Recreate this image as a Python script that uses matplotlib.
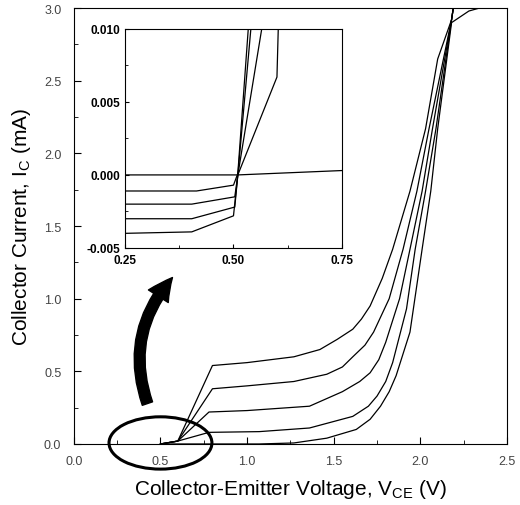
import matplotlib.pyplot as plt
from matplotlib.patches import Ellipse, FancyArrowPatch
from matplotlib.ticker import MultipleLocator

plt.rcParams['font.family'] = ['Liberation Sans', 'DejaVu Sans']

# main I-V curves (V_CE in V, I_C in mA), highest base current first
v1 = [0.50, 0.60, 0.80, 1.00, 1.27, 1.42, 1.52, 1.61, 1.66, 1.71, 1.78, 1.84, 1.94, 2.03, 2.10, 2.18, 2.19, 2.50]
i1 = [0.00, 0.02, 0.54, 0.56, 0.60, 0.65, 0.72, 0.79, 0.86, 0.95, 1.14, 1.34, 1.74, 2.17, 2.65, 2.92, 3.00, 3.00]
v2 = [0.50, 0.60, 0.80, 1.00, 1.27, 1.46, 1.55, 1.61, 1.68, 1.73, 1.82, 1.90, 1.98, 2.05, 2.18, 2.19, 2.50]
i2 = [0.00, 0.02, 0.38, 0.40, 0.43, 0.48, 0.53, 0.60, 0.68, 0.77, 1.00, 1.34, 1.74, 2.17, 2.92, 3.00, 3.00]
v3 = [0.50, 0.60, 0.78, 1.00, 1.36, 1.55, 1.65, 1.71, 1.76, 1.80, 1.88, 1.94, 2.01, 2.07, 2.18, 2.19, 2.50]
i3 = [0.00, 0.02, 0.22, 0.23, 0.26, 0.36, 0.43, 0.49, 0.58, 0.70, 1.00, 1.34, 1.74, 2.17, 2.92, 3.00, 3.00]
v4 = [0.50, 0.60, 0.78, 1.07, 1.36, 1.61, 1.70, 1.75, 1.80, 1.84, 1.92, 1.97, 2.03, 2.09, 2.18, 2.19, 2.50]
i4 = [0.00, 0.02, 0.08, 0.085, 0.11, 0.19, 0.26, 0.33, 0.43, 0.56, 0.93, 1.34, 1.74, 2.17, 2.92, 3.00, 3.00]
v5 = [0.50, 0.60, 1.07, 1.27, 1.46, 1.63, 1.71, 1.77, 1.82, 1.86, 1.94, 2.01, 2.06, 2.10, 2.18, 2.28, 2.34, 2.50]
i5 = [0.00, 0.00, 0.00, 0.007, 0.04, 0.10, 0.17, 0.26, 0.36, 0.47, 0.77, 1.34, 1.74, 2.17, 2.90, 2.98, 3.00, 3.00]

x_ticks = [0.0, 0.5, 1.0, 1.5, 2.0, 2.5]
y_ticks = [0.0, 0.5, 1.0, 1.5, 2.0, 2.5, 3.0]

# inset: low-voltage detail
iv0 = [0.25, 0.51, 0.75]
ii0 = [0.0, 0.0, 0.0003]
iva = [0.25, 0.415, 0.50, 0.51, 0.534]
iia = [-0.0011, -0.0011, -0.0007, 0.0001, 0.010]
ivb = [0.25, 0.404, 0.503, 0.51, 0.540]
iib = [-0.0020, -0.0020, -0.0015, 0.0, 0.010]
ivc = [0.25, 0.404, 0.503, 0.51, 0.565]
iic = [-0.0030, -0.0030, -0.0022, 0.0, 0.010]
ivd = [0.25, 0.404, 0.50, 0.51, 0.600, 0.603]
iid = [-0.0040, -0.0039, -0.0028, 0.0, 0.0067, 0.010]

ins_x_ticks = [0.25, 0.50, 0.75]
ins_y_ticks = [-0.005, 0.0, 0.005, 0.010]

fig = plt.figure(figsize=(5.2, 5.06), dpi=100)
ax = fig.add_axes([0.142, 0.1206, 0.833, 0.8614])

for v, i in [(v1, i1), (v2, i2), (v3, i3), (v4, i4), (v5, i5)]:
    ax.plot(v, i, color='black', lw=0.9)

ax.set_xticks(x_ticks, ['%.1f' % t for t in x_ticks])
ax.set_yticks(y_ticks, ['%.1f' % t for t in y_ticks])
ax.xaxis.set_minor_locator(MultipleLocator(0.25))
ax.yaxis.set_minor_locator(MultipleLocator(0.25))
ax.set_xlim(0, 2.5)
ax.set_ylim(0, 3.0)
ax.tick_params(which='both', direction='in', labelsize=9, labelcolor='#444444')
ax.tick_params(axis='x', pad=8)
ax.tick_params(axis='y', pad=9)
ax.tick_params(which='major', length=5)
ax.tick_params(which='minor', length=3)
ax.set_xlabel('Collector-Emitter Voltage, V$_\\mathregular{CE}$ (V)', fontsize=15, labelpad=7)
ax.set_ylabel('Collector Current, I$_\\mathregular{C}$ (mA)', fontsize=15, labelpad=8)

# circled region and arrow
ell = Ellipse((0.50, 0.007), 0.594, 0.36, fill=False, color='black', lw=2.2, clip_on=False)
ax.add_patch(ell)
arr = FancyArrowPatch((0.43, 0.26), (0.58, 1.16), connectionstyle='arc3,rad=-0.3',
                      arrowstyle='simple,head_width=1.3,head_length=1.3,tail_width=0.6',
                      mutation_scale=13, color='black')
ax.add_patch(arr)

# inset
ins = fig.add_axes([0.240, 0.508, 0.418, 0.433])
for v, i in [(iv0, ii0), (iva, iia), (ivb, iib), (ivc, iic), (ivd, iid)]:
    ins.plot(v, i, color='black', lw=0.9)
ins.set_xticks(ins_x_ticks, ['%.2f' % t for t in ins_x_ticks])
ins.set_yticks(ins_y_ticks, ['%.3f' % t for t in ins_y_ticks])
ins.xaxis.set_minor_locator(MultipleLocator(0.125))
ins.yaxis.set_minor_locator(MultipleLocator(0.0025))
ins.set_xlim(0.25, 0.75)
ins.set_ylim(-0.005, 0.010)
ins.tick_params(which='both', direction='in', labelsize=8.5)
ins.tick_params(axis='x', pad=4)
ins.tick_params(axis='y', pad=3)
ins.tick_params(which='major', length=3)
ins.tick_params(which='minor', length=2)
for lab in ins.get_xticklabels() + ins.get_yticklabels():
    lab.set_fontweight('bold')

fig.savefig('out.png', dpi=100)
